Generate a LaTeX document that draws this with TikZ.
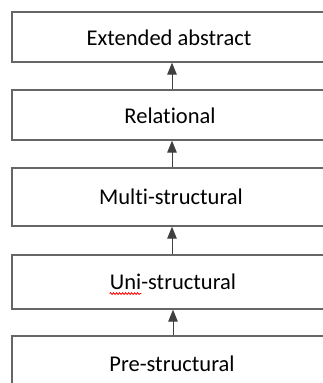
\documentclass[tikz,border=0pt]{standalone}
\usepackage{fontspec}
\setmainfont{Carlito}[Ligatures=NoCommon,RawFeature={-liga;-dlig}]
\usetikzlibrary{arrows.meta,decorations.pathmorphing}
\begin{document}
\begin{tikzpicture}[x=1pt,y=-1pt,
  levelbox/.style={draw=black!60,line width=1.3pt,minimum width=316pt,inner sep=0pt,fill=white},
  labeltext/.style={inner sep=0pt,font=\fontsize{22.5}{26}\selectfont},
  uparrow/.style={draw=black!75,line width=1pt,-{Triangle[length=12pt,width=9.5pt]}}]
\clip (0,0) rectangle (323,383);
\fill[white] (0,0) rectangle (323,383);
\node[levelbox,minimum height=50pt] (b1) at (170,37) {};
\node[levelbox,minimum height=50pt] (b2) at (170,115) {};
\node[levelbox,minimum height=58pt] (b3) at (170,197) {};
\node[levelbox,minimum height=54pt] (b4) at (170,282) {};
\node[levelbox,minimum height=54pt] (b5) at (170,363) {};
\node[labeltext] (t1) at (169,38) {Extended abstract};
\node[labeltext] (t2) at (170,116) {Relational};
\node[labeltext] (t3) at (171,197) {Multi-structural};
\node[labeltext] (t4) at (173,282) {Uni-structural};
\node[labeltext] (t5) at (172,364) {Pre-structural};
\node[labeltext,anchor=base west] (t4u) at (t4.base west) {\phantom{Uni}};
\coordinate (u0) at ([yshift=-3.5pt]t4u.south west);
\coordinate (u1) at ([yshift=-3.5pt]t4u.south east);
\draw[red,line width=0.8pt,decorate,decoration={snake,segment length=3pt,amplitude=0.9pt}] (u0) -- (u1);
\draw[uparrow] (b2.north -| 172,0) -- (b1.south -| 172,0);
\draw[uparrow] (b3.north -| 172,0) -- (b2.south -| 172,0);
\draw[uparrow] (b4.north -| 172,0) -- (b3.south -| 172,0);
\draw[uparrow] (b5.north -| 173,0) -- (b4.south -| 173,0);
\end{tikzpicture}
\end{document}
